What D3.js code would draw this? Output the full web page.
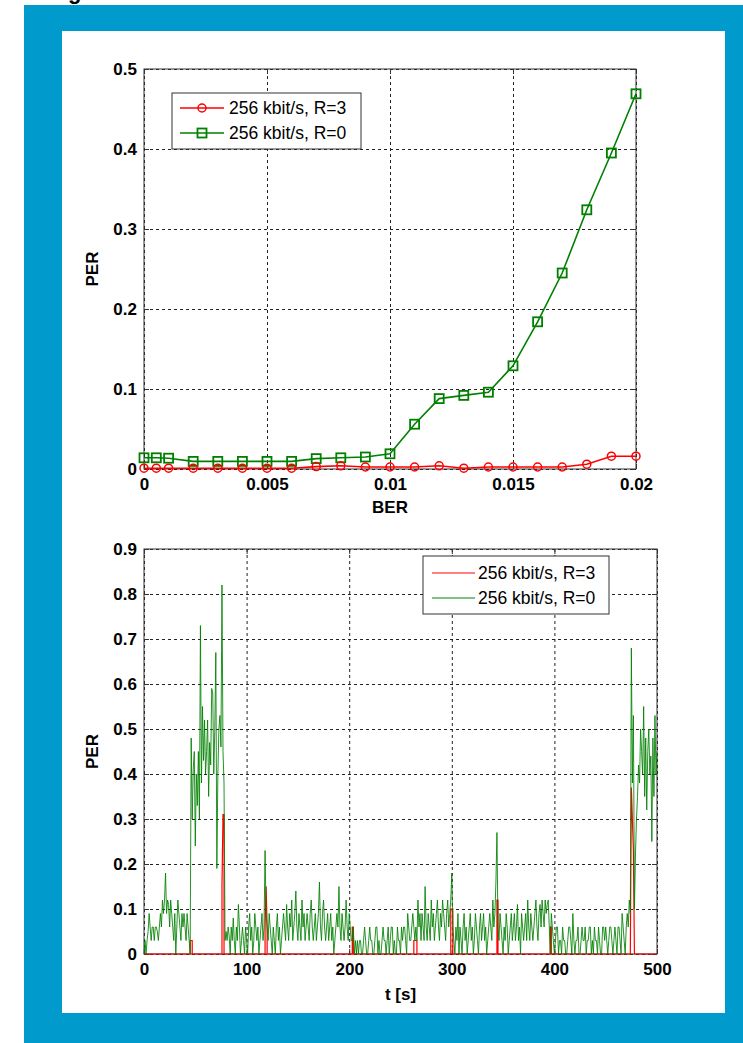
<!DOCTYPE html>
<meta charset="utf-8">
<style>
  body { margin: 0; background: #fff; }
  svg text { font-family: "Liberation Sans", Arial, sans-serif; fill: #000; }
  .tick text { font-size: 17px; font-weight: bold; }
  .grid line { stroke: #222; stroke-dasharray: 3,3; }
  .grid .domain { stroke: none; }
  .inner .domain { stroke: none; }
  .inner line { stroke: #333; }
</style>
<body>
<script src="https://d3js.org/d3.v7.min.js"></script>
<script>

// top chart: PER vs BER
var berX = [0, 0.0005, 0.001, 0.002, 0.003, 0.004, 0.005, 0.006, 0.007, 0.008, 0.009,
  0.01, 0.011, 0.012, 0.013, 0.014, 0.015, 0.016, 0.017, 0.018, 0.019, 0.02];
var perR3 = [0.001, 0.001, 0.001, 0.001, 0.001, 0.001, 0.001, 0.001, 0.003, 0.004, 0.0025,
  0.0025, 0.0025, 0.004, 0.001, 0.0025, 0.0025, 0.0025, 0.0025, 0.006, 0.016, 0.016];
var perR0 = [0.014, 0.014, 0.0135, 0.0095, 0.0095, 0.0095, 0.0095, 0.0095, 0.013, 0.014, 0.015,
  0.019, 0.056, 0.088, 0.092, 0.096, 0.129, 0.184, 0.245, 0.324, 0.395, 0.469];
var berTicks = [0, 0.005, 0.01, 0.015, 0.02];
var perTicksTop = [0, 0.1, 0.2, 0.3, 0.4, 0.5];

// bottom chart: PER over time, green in 1/100, one value per second (t = 0..500)
var perTimeR0 = [
  0,3,0,3,5,9,6,3,6,6, 3,6,6,5,3,6,9,6,12,9, 12,18,9,12,11,6,12,9,6,3, 9,0,6,12,9,6,3,9,6,9,
  6,3,9,6,3,0,48,30,41,45, 24,40,33,45,30,73,38,55,43,52, 40,45,52,35,47,42,59,58,40,50,
  67,19,40,50,53,46,82,45,38,3, 5,3,6,4,0,6,3,8,3,0, 6,3,11,6,0,3,6,3,0,6,
  3,0,6,9,3,6,0,3,9,6, 3,6,0,3,6,9,3,6,23,9, 6,3,9,6,3,0,6,3,0,6, 9,3,6,0,3,6,9,6,3,11,
  6,3,9,6,12,3,6,9,14,6, 3,9,6,3,12,6,9,3,6,9, 6,3,9,12,6,3,6,9,3,6, 9,16,6,3,9,12,6,3,6,9,
  3,6,9,3,6,0,3,6,9,6, 15,6,3,9,6,3,6,12,6,3, 9,6,3,3,6,0,3,0,3,0, 3,3,0,0,3,6,3,0,0,3,
  6,3,3,0,0,3,6,6,0,3, 0,0,3,6,3,3,0,3,6,0, 3,6,6,0,3,0,0,6,3,3, 0,6,3,6,6,3,0,9,6,3,
  3,6,9,6,3,6,3,12,6,9, 3,9,6,3,15,6,3,9,6,3, 12,6,9,3,6,9,12,6,3,9, 6,12,9,6,3,9,12,6,9,12,
  18,6,3,0,6,3,9,0,6,3, 0,6,9,3,6,0,3,6,9,3, 6,0,3,9,6,3,0,6,9,3, 6,9,3,6,0,3,6,9,6,3,
  12,6,9,16,27,6,3,9,6,3, 0,6,3,9,6,0,3,6,9,3, 6,9,3,6,11,3,6,0,9,6, 3,6,9,3,12,6,3,9,6,3,
  6,9,12,6,3,9,11,6,12,9, 6,12,9,11,12,6,0,9,6,3, 0,3,6,6,0,3,3,0,6,3, 3,0,0,3,6,6,3,0,9,3,
  0,3,3,6,0,0,3,6,3,3, 6,0,3,3,6,6,0,3,0,6, 3,3,0,6,3,0,0,6,6,3, 6,3,0,3,6,6,3,0,3,6,
  3,0,6,6,3,0,9,6,3,0, 6,9,6,12,9,68,38,53,10,22, 30,35,42,38,50,45,40,55,35,48,
  32,45,50,40,44,25,48,35,53,40,45
];
// red: corner points of the few spikes, in 1/100
var redT = [0,45,45,47,47, 76,76,77,78,78, 118,118,119,120,120, 203,203,204,204, 263,263,266,266,
  299,299,301,301, 344,344,345,345, 396,396,397,397, 474,475,476,477,478,500];
var redV = [0,0,3,3,0, 0,15,31,31,0, 0,6,15,6,0, 0,6,6,0, 0,3,3,0,
  0,10,10,0, 0,12,12,0, 0,6,6,0, 0,37,30,23,0,0];
var tTicks = [0, 100, 200, 300, 400, 500];
var perTicksBottom = [0, 0.1, 0.2, 0.3, 0.4, 0.5, 0.6, 0.7, 0.8, 0.9];

var legendLabels = ["256 kbit/s, R=3", "256 kbit/s, R=0"];
var red = "#ff0000", green = "#008000";

var svg = d3.select("body").append("svg")
  .attr("width", 743)
  .attr("height", 1043);

// frame
svg.append("rect").attr("x", 24).attr("y", 5).attr("width", 719).attr("height", 1038).attr("fill", "#009acc");
svg.append("rect").attr("x", 62).attr("y", 31).attr("width", 663).attr("height", 982).attr("fill", "#fff");
svg.append("text").attr("x", 68).attr("y", -1).style("font-size", "22px").style("font-weight", "bold").text("g");

function frame(g, x, y, w, h, xt, yt) {
  g.append("g").attr("class", "grid")
    .call(d3.axisLeft(y).tickValues(yt).tickSize(-w).tickFormat(""));
  g.append("g").attr("class", "grid")
    .attr("transform", "translate(0," + h + ")")
    .call(d3.axisBottom(x).tickValues(xt).tickSize(-h).tickFormat(""));

  g.append("rect").attr("width", w).attr("height", h)
    .attr("fill", "none").attr("stroke", "#333").attr("stroke-width", 1);

  var fmt = d3.format("~g");
  g.append("g").attr("class", "inner")
    .call(d3.axisLeft(y).tickValues(yt).tickSize(-5).tickPadding(7).tickFormat(fmt));
  g.append("g").attr("class", "inner")
    .attr("transform", "translate(0," + h + ")")
    .call(d3.axisBottom(x).tickValues(xt).tickSize(-5).tickPadding(9).tickFormat(fmt));
  g.append("g").attr("class", "inner")
    .call(d3.axisTop(x).tickValues(xt).tickSize(-5).tickFormat(""));
  g.append("g").attr("class", "inner")
    .attr("transform", "translate(" + w + ",0)")
    .call(d3.axisRight(y).tickValues(yt).tickSize(-5).tickFormat(""));
  g.selectAll(".tick text").attr("fill", "#000");
}

// ---------- top chart ----------
var m1 = { left: 144, top: 69 }, w1 = 492, h1 = 400;
var x1 = d3.scaleLinear().domain([0, 0.02]).range([0, w1]);
var y1 = d3.scaleLinear().domain([0, 0.5]).range([h1, 0]);
var g1 = svg.append("g").attr("transform", "translate(" + m1.left + "," + m1.top + ")");
frame(g1, x1, y1, w1, h1, berTicks, perTicksTop);

var line1 = d3.line().x(function (d) { return x1(d[0]); }).y(function (d) { return y1(d[1]); });
var r3pts = berX.map(function (v, i) { return [v, perR3[i]]; });
var r0pts = berX.map(function (v, i) { return [v, perR0[i]]; });

g1.append("path").datum(r0pts).attr("d", line1)
  .attr("fill", "none").attr("stroke", green).attr("stroke-width", 1.6);
g1.selectAll(".sq").data(r0pts).enter().append("rect")
  .attr("x", function (d) { return x1(d[0]) - 4.5; })
  .attr("y", function (d) { return y1(d[1]) - 4.5; })
  .attr("width", 9).attr("height", 9)
  .attr("fill", "none").attr("stroke", green).attr("stroke-width", 1.8);

g1.append("path").datum(r3pts).attr("d", line1)
  .attr("fill", "none").attr("stroke", red).attr("stroke-width", 1.6);
g1.selectAll(".ci").data(r3pts).enter().append("circle")
  .attr("cx", function (d) { return x1(d[0]); })
  .attr("cy", function (d) { return y1(d[1]); })
  .attr("r", 4)
  .attr("fill", "none").attr("stroke", red).attr("stroke-width", 1.5);

g1.append("text").attr("x", w1 / 2).attr("y", h1 + 44).attr("text-anchor", "middle")
  .style("font-size", "17px").style("font-weight", "bold").text("BER");
g1.append("text").attr("transform", "translate(-46," + (h1 / 2) + ") rotate(-90)")
  .attr("text-anchor", "middle").style("font-size", "17px").style("font-weight", "bold").text("PER");

// legend top
var lg1 = g1.append("g").attr("transform", "translate(28,24)");
lg1.append("rect").attr("width", 189).attr("height", 56)
  .attr("fill", "#fff").attr("stroke", "#333");
[red, green].forEach(function (c, i) {
  var yy = 15 + i * 25;
  lg1.append("line").attr("x1", 8).attr("x2", 52).attr("y1", yy).attr("y2", yy)
    .attr("stroke", c).attr("stroke-width", 1.6);
  if (i === 0) {
    lg1.append("circle").attr("cx", 30).attr("cy", yy).attr("r", 4)
      .attr("fill", "none").attr("stroke", c).attr("stroke-width", 1.5);
  } else {
    lg1.append("rect").attr("x", 25.5).attr("y", yy - 4.5).attr("width", 9).attr("height", 9)
      .attr("fill", "none").attr("stroke", c).attr("stroke-width", 1.8);
  }
  lg1.append("text").attr("x", 57).attr("y", yy + 6)
    .style("font-size", "17.5px").text(legendLabels[i]);
});

// ---------- bottom chart ----------
var m2 = { left: 144, top: 549 }, w2 = 513, h2 = 405;
var x2 = d3.scaleLinear().domain([0, 500]).range([0, w2]);
var y2 = d3.scaleLinear().domain([0, 0.9]).range([h2, 0]);
var g2 = svg.append("g").attr("transform", "translate(" + m2.left + "," + m2.top + ")");
frame(g2, x2, y2, w2, h2, tTicks, perTicksBottom);

var line2 = d3.line().x(function (d) { return x2(d[0]); }).y(function (d) { return y2(d[1]); });
var greenPts = perTimeR0.map(function (v, i) { return [i, v / 100]; });
var redPts = redT.map(function (t, i) { return [t, redV[i] / 100]; });

g2.append("path").datum(redPts).attr("d", line2)
  .attr("fill", "none").attr("stroke", red).attr("stroke-width", 1.2);
g2.append("path").datum(greenPts).attr("d", line2)
  .attr("fill", "none").attr("stroke", green).attr("stroke-width", 1).attr("stroke-opacity", 0.85);

g2.append("text").attr("x", w2 / 2).attr("y", h2 + 46).attr("text-anchor", "middle")
  .style("font-size", "17px").style("font-weight", "bold").text("t [s]");
g2.append("text").attr("transform", "translate(-46," + (h2 / 2) + ") rotate(-90)")
  .attr("text-anchor", "middle").style("font-size", "17px").style("font-weight", "bold").text("PER");

// legend bottom
var lg2 = g2.append("g").attr("transform", "translate(279,7)");
lg2.append("rect").attr("width", 186).attr("height", 58)
  .attr("fill", "#fff").attr("stroke", "#333");
[red, green].forEach(function (c, i) {
  var yy = 17 + i * 25;
  lg2.append("line").attr("x1", 9).attr("x2", 52).attr("y1", yy).attr("y2", yy)
    .attr("stroke", c).attr("stroke-width", 1);
  lg2.append("text").attr("x", 55).attr("y", yy + 6)
    .style("font-size", "17.5px").text(legendLabels[i]);
});

</script>
</body>
